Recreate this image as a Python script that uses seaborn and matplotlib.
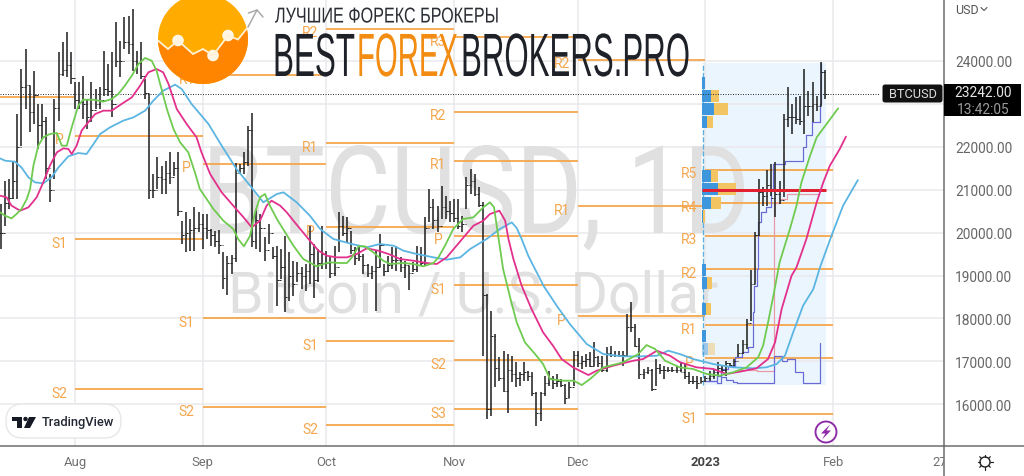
import numpy as np
import matplotlib
matplotlib.use("Agg")
import matplotlib.pyplot as plt
import seaborn as sns
from matplotlib.patches import Circle, FancyBboxPatch, Polygon, Rectangle
from matplotlib.patheffects import AbstractPathEffect
from matplotlib.transforms import Affine2D, Bbox

# ---------- data (days counted from 1 Aug 2022, prices in USD) ----------
first_day = -18
highs = [20666,21210,21250,21677,22764,23813,24280,23425,23775,23000,23000,22690,21366,23114,24200,24450,24684,24200,
 23500,23500,23640,23114,23500,23347,23386,24240,23930,24200,
 24917,24474,25018,25057,25212,24240,24450,23580,23230,21366,
 21754,21560,21677,21870,21638,21870,20278,20472,20317,20589,
 20472,20433,20433,20084,20045,20068,19540,19462,19477,21630,
 21600,21870,22492,22788,20550,20433,19890,20200,19656,19695,
 19617,19928,19540,19345,19307,19190,19268,20161,19734,19617,
 20161,19579,19423,19695,20472,20394,20355,20045,19657,19695,
 19500,19268,19229,19579,19967,19268,19462,19657,19695,19423,
 19345,19229,19307,19695,19657,20355,21016,20783,20627,21078,
 20861,20744,20783,20783,20395,21288,21482,21366,21055,20705,
 18568,18180,17636,17090,17247,17170,17130,16975,16742,16975,
 16781,16742,16276,16291,16664,16781,16664,16703,16586,16470,
 16509,17247,17247,17130,17170,17208,17441,17130,17130,17325,
 17364,17247,17247,17247,18102,18389,17869,17542,16820,16858,
 16820,17053,16936,16897,16858,16877,16897,16976,16937,16743,
 16666,16666,16627,16666,16782,16821,16992,16899,17015,16961,
 17054,17404,17497,17986,19129,20005,21249,21054,21466,21598,
 21637,21210,22764,23385,22997,23152,23191,23813,23308,23502,
 23191,23968,23797]
lows = [19617,20160,20550,20783,20783,22026,22880,22337,22531,21950,22180,21250,20705,21250,22610,23660,23619,23464,
 22880,22880,22650,22415,22570,22880,22880,23192,23192,22690,
 23852,23619,24280,24163,23775,23697,23580,23114,20783,20800,
 21016,20900,20900,21133,21327,20395,19734,19540,19579,19579,
 20006,19617,19850,19695,19656,19500,18685,18545,19035,19307,
 21360,21360,21560,19656,19617,19540,19345,19734,19384,18296,
 18918,18141,18413,18530,18840,18685,18646,18800,18468,18840,
 19151,19151,18934,18980,19540,19928,19773,19500,19245,19345,
 19035,18957,18918,18180,19190,19000,19073,19151,19112,19090,
 18934,18670,19090,19090,19229,19229,20240,20084,20006,20316,
 20316,20239,20239,20084,20006,20550,20900,20861,20590,17130,
 15654,15730,16392,16548,16276,15794,16509,16392,16431,16548,
 16548,16198,15499,15615,16198,16431,16353,16392,16392,16004,
 16136,16431,16858,16820,16858,16858,16897,16858,16742,16742,
 17092,17092,17092,16897,17130,17674,17325,16587,16587,16703,
 16315,16431,16703,16587,16742,16757,16727,16743,16588,16471,
 16471,16355,16495,16510,16549,16588,16666,16743,16666,16899,
 16899,17093,17171,17287,17948,18802,19928,20627,20627,20860,
 20355,20666,20821,22453,22298,22531,22507,22298,22725,22570,
 22841,22958,23113]
closes = [20000,20700,20800,21200,22000,23400,23450,22800,23200,22500,22600,21500,21000,22900,23700,23800,23900,23600,
 23100,23050,23000,22700,22850,23000,23100,23350,23300,23000,
 24000,24000,24450,24400,24000,23950,23650,23250,21000,21000,
 21300,21250,21400,21300,21500,20500,19950,20000,20050,20100,
 20200,20100,20050,19950,19800,19700,18950,19280,19400,21400,
 21500,21650,22400,19800,20300,20100,19600,20000,19450,18900,
 19200,18500,19000,18800,19050,19000,19100,19500,18900,19300,
 19500,19300,19050,19200,20150,20000,20100,19600,19400,19450,
 19250,19050,19100,19200,19700,19100,19250,19350,19350,19200,
 19250,19050,19150,19500,19300,20100,20600,20300,20150,20600,
 20500,20450,20350,20150,20200,21100,21200,20900,20650,18550,
 15900,17600,16850,16600,16300,16800,16700,16600,16700,16750,
 16650,16250,15800,16250,16500,16600,16500,16550,16450,16150,
 16400,17150,16950,17000,17050,16900,17100,16950,16800,17200,
 17150,17150,17150,17150,17800,17800,17350,16700,16750,16800,
 16350,16850,16800,16800,16800,16800,16800,16750,16650,16550,
 16550,16500,16550,16620,16650,16750,16850,16800,16950,16920,
 17000,17200,17400,17900,18800,19950,20950,20850,21100,20800,
 20900,20750,22650,22700,22700,22650,22600,22950,22950,23000,
 22950,23750,23242]

green_d = [-18.2,-17,-15.4,-14.2,-13,-11.7,-10.9,-10.1,-8.9,-7.7,-6.1,-4.4,-3.2,-2,-0.8,0.8,2,4.5,6.9,8.9,10.5,12.1,13.8,15.4,17,18.6,19.8,21,22.3,23.9,25.5,27.5,29.1,
 30.3,33.6,36,38.4,39.6,41,42.5,43.7,44.9,46.1,47.3,49,51,53,55.4,58.7,60.3,61.9,64.3,66,67.2,68.8,70.4,72.4,74.8,76.5,79.7,82.1,84.5,87,88.2,89.8,
 91.8,94.2,96.7,99.1,100.7,101.7,102.7,103.9,105.6,107.2,109.2,112,113.6,115.3,118.5,121,123,125,128.2,133,136.7,138.7,140.8,143.2,146.8,
 150,153.3,156.5,159.7,163,165.8,167,168.2,169.5,171,173.5,175.1,176.3,178.4,180,182.4,185.2]
green_v = [20472,20395,20332,20433,20550,20783,21016,21560,22026,22220,22298,22321,22026,22026,22453,22959,23098,23098,23052,23114,23230,23425,23658,23930,24070,24008,23774,23347,22881,22415,22104,21871,21405,
 21016,20550,20278,20084,19850,19680,19928,20472,20822,20899,20627,20317,20006,19695,19384,19213,19268,19307,19291,19291,19423,19680,19680,19540,19345,19268,19291,19268,19213,19291,19423,19695,
 20084,20317,20356,20589,20705,20589,19928,19151,18490,17907,17441,17130,16936,16587,16548,16548,16447,16587,16858,16975,17169,17379,17286,17014,16858,
 16821,16704,16665,16743,16860,17093,17365,17909,18530,19306,20083,20627,21171,21793,22220,22531,22896]

pink_d = [-18.2,-16.6,-15.4,-13.3,-11.3,-9.3,-7.7,-6.1,-4.4,-2.8,-1.6,-0.8,0.4,1.6,3.2,4.9,6.9,8.9,11.3,13.8,15.8,17.8,19.8,21.4,22.7,24.7,27.1,29.5,30.7,32.8,35.6,38.4,40.9,42.9,44.9,46.5,47.7,
 49.8,51.4,53,55,57,59.1,61.1,63.5,66,68.4,70.8,73.6,76.1,78.9,82.1,85.4,87.8,90.2,92.6,94.3,96.7,99.1,100.7,103,104.4,105.2,
 106.4,108.4,110.8,113.6,116,118.1,120.9,124.6,126.6,130.6,135.5,137.9,141.2,144.4,146.8,
 150.8,154.9,158.1,161.4,165.4,168.2,169.9,171.5,173.9,175.1,177.5,180,181.6,183.2,185.6,187.1]
pink_v = [20861,20822,20628,20511,20589,20822,21171,21560,21871,21964,21948,21832,22026,22376,22570,22764,22842,22842,22998,23153,23425,23736,23813,23736,23464,22881,22531,22220,21871,21366,20938,20628,20356,20122,20278,20628,20744,
 20627,20472,20278,20045,19812,19579,19462,19423,19423,19501,19633,19579,19501,19384,19345,19291,19268,19423,19695,19889,20161,20278,20433,20511,20278,19851,
 19384,18762,18218,17674,17364,17053,16858,16680,16781,16897,17014,17053,17247,17130,16980,
 16860,16821,16704,16759,16837,17054,17443,18220,18996,19190,19850,20705,21171,21560,21948,22236]

blue_d = [-18.2,-17,-14.6,-13,-11.3,-9.7,-7.7,-5.7,-4,-1.6,0.8,2.8,4.5,6.1,8.5,11.7,14.2,17,19,21.4,24.3,25.9,28.3,32.4,35.6,39.2,42.5,45.7,49,50.6,53.8,57,59.5,62.7,
 67.2,70.8,74,77.3,79.7,82.9,87,90.2,93.5,95.9,99.9,103.1,106,107.2,108.4,
 110,113.7,116.9,120.1,124.2,128.2,133,137.1,141.2,144,146.8,
 150,154.9,159.7,164.6,167.8,170.3,172.3,174.3,176.7,179.2,180.8,183.6,186.4,190]
blue_v = [21731,21677,21653,21521,21288,21171,21148,21288,21521,21778,21855,21832,22065,22298,22453,22609,22687,22842,23075,23308,23448,23347,22997,22531,22026,21482,21094,20706,20900,20939,20706,20395,20084,19851,
 19734,19656,19734,19695,19579,19501,19423,19369,19423,19617,19851,20084,20239,20106,19851,
 19461,18762,18296,17869,17402,17169,17115,17115,17130,17247,17169,
 17054,16937,16860,16837,16860,16937,17132,17676,18297,18686,19190,19928,20627,21225]

# monthly pivot levels: (start day, end day, {name: level})
pivot_months = [
    (-31, 0, {"R1": 23168}),
    (0, 31, {"P": 22259, "S1": 19844, "S2": 16354}),
    (31, 61, {"R1": 23673, "P": 21606, "S1": 18009, "S2": 15934}),
    (61, 92, {"R2": 24746, "R1": 22088, "P": 20130, "S1": 17473, "S2": 15515}),
    (92, 122, {"R3": 24559, "R2": 22818, "R1": 21669, "P": 19927, "S1": 18778, "S2": 17030, "S3": 15888}),
    (122, 153, {"R2": 24030, "R1": 20620, "P": 18056}),
    (153, 184, {"R5": 21466, "R4": 20690, "R3": 19927, "R2": 19151, "R1": 17846, "P": 17077, "S1": 15771}),
]

# visible-range volume profile
vp_price = [23486,23191,22880,22570,21326,21008,20697,20378,19136,18826,18220,17598,17287]
vp_up = [0.8,2.3,3.1,1.2,2.2,4.0,2.2,0.3,1.0,1.4,1.05,1.05,1.6]
vp_down = [0,1.9,3.2,1.6,1.7,4.4,2.4,0.6,0,1.1,1.1,0,1.6]
poc_price = 21004
range_high, range_low = 23960, 16450
range_start, range_end = 153, 182.2

upper_d = [153,155.7,156.9,158.5,160.1,161.8,163.4,164.6,164.8,165.6,165.8,166.6,167.7,169,169.5,172.3,176.7,177.5,178.8,180.8,181]
upper_v = [16549,16665,16821,16899,17093,17209,17326,18142,18763,19152,20239,20472,20588,21016,21598,21676,21987,22274,22585,22997,23953]
lower_d = [153,155.7,156.7,158.1,159.7,160.7,169.6,171.5,172.7,174.7,176.7,180.8]
lower_v = [16549,16495,16627,16572,16526,16487,17132,17015,17054,16759,16487,17419]
rose_d = [160.9,165.6,169.6,171.2,172.7,180.4]
rose_v = [16798,16782,20700,20783,20899,20899]

last_price = 23242
price_ticks = [16000,17000,18000,19000,20000,21000,22000,23000,24000]
month_days = [0,31,61,92,122,153,184]
month_labels = ["Aug","Sep","Oct","Nov","Dec","2023","Feb"]
scale_label = "27"

# ---------- figure ----------
W, H = 1024, 477
sns.set_theme(style="white")
plt.rcParams["font.family"] = ["Roboto", "DejaVu Sans"]
fig = plt.figure(figsize=(W/100, H/100), dpi=100)
px = 72/100
ax = fig.add_axes([0, 30/H, 944/W, 447/H])
ov = fig.add_axes([0, 0, 1, 1], zorder=5)
ov.set_xlim(0, W); ov.set_ylim(H, 0); ov.axis("off"); ov.patch.set_alpha(0)
top = fig.add_axes([0, 0, 1, 1], zorder=9)
top.set_xlim(0, W); top.set_ylim(H, 0); top.axis("off"); top.patch.set_alpha(0)
renderer = fig.canvas.get_renderer()


class Squeeze(AbstractPathEffect):
    """Narrows the glyph outlines of a text horizontally about its left edge."""
    def __init__(self, sx):
        super().__init__()
        self.sx = sx
    def draw_path(self, renderer, gc, tpath, affine, rgbFace=None):
        renderer.draw_path(gc, tpath, Affine2D().scale(self.sx, 1) + affine, rgbFace)


def squeeze_to(t, width_px):
    t.set_path_effects([Squeeze(width_px / t.get_window_extent(renderer).width)])
    return t


ax.set_xlim(-18.2, 210.9)
ax.set_ylim(15026, 25445)
ax.yaxis.tick_right()
ax.set_yticks(price_ticks, [f"{v}.00" for v in price_ticks], color="#666666", fontsize=9.9)
ax.set_xticks(month_days, [])
ax.tick_params(length=0, axis="both")
ax.tick_params(axis="y", pad=8)
ax.grid(True, color="#e9e9ec", lw=1.5*px, zorder=0.45)
ax.set_axisbelow(True)
for s in ("top", "left"):
    ax.spines[s].set_visible(False)
for s in ("right", "bottom"):
    ax.spines[s].set_color("#6a6a6a"); ax.spines[s].set_linewidth(1.5*px)

# selected range background
ax.add_patch(Rectangle((range_start, range_low), range_end-range_start, range_high-range_low, color="#eaf5fd", lw=0, zorder=0.3))

# watermark
wm = ax.text(202/W, 1-234/H, "BTCUSD, 1D", transform=fig.transFigure, fontsize=88, color="#e0e0e0", zorder=0.7, family="Roboto")
squeeze_to(wm, 548)
ax.text(228/W, 1-313/H, "Bitcoin / U.S. Dollar", transform=fig.transFigure, fontsize=41, color="#e0e0e0", zorder=0.7, family="Roboto")

# pivots
pc = "#f5a64c"
for start, end, levels in pivot_months:
    for name, v in levels.items():
        ax.hlines(v, start, end, color=pc, lw=1.8*px, zorder=1.5)
        if start >= 0:
            ax.annotate(name, (start, v), xytext=(-16*px, -3.5*px), textcoords="offset points",
                        ha="center", va="center", fontsize=10, color=pc, zorder=1.5)

# volume profile
base = 152.1
for i, (p, u, d) in enumerate(zip(vp_price, vp_up, vp_down)):
    a = 0.45 if i == len(vp_price)-1 else 1
    ax.barh(p, u, left=base, height=285, color="#3e97dc", alpha=a, zorder=1.8, lw=0)
    ax.barh(p, d, left=base+u, height=285, color="#f2c462", alpha=a, zorder=1.8, lw=0)
ax.vlines(base+0.3, range_low, range_high, color="#5aaee0", lw=1.3*px, linestyles=(0, (4, 1.5)), zorder=1.7)
ax.hlines(poc_price, base, range_end, color="#e3202f", lw=3*px, zorder=2.6)

# range steps
ax.plot(upper_d, upper_v, drawstyle="steps-post", color="#6a6ad6", lw=1.2*px, zorder=2.4)
ax.plot(lower_d, lower_v, drawstyle="steps-post", color="#6a6ad6", lw=1.2*px, zorder=2.4)
ax.plot(rose_d, rose_v, drawstyle="steps-post", color="#e89aa5", lw=1.2*px, zorder=2.3)

# OHLC bars
days = np.arange(len(highs)) + first_day
opens = [closes[0]] + closes[:-1]
bar_c = "#262626"
ax.vlines(days, lows, highs, color=bar_c, lw=1.6*px, zorder=2.5)
ax.hlines(opens, days-0.42, days, color=bar_c, lw=1*px, zorder=2.5)
ax.hlines(closes, days, days+0.42, color=bar_c, lw=1*px, zorder=2.5)

# moving averages
for xs, ys, c in ((blue_d, blue_v, "#5bb5e2"), (pink_d, pink_v, "#e2308c"), (green_d, green_v, "#6fcb50")):
    sns.lineplot(x=xs, y=ys, ax=ax, color=c, lw=1.8*px, estimator=None, sort=False, legend=False, zorder=3)
ax.set_xlabel(""); ax.set_ylabel("")
ax.set_ylim(15026, 25445)
ax.axhline(last_price, color="#333333", lw=1*px, ls=(0, (1, 1.5)), zorder=2.2, xmax=880/944)

# axis labels (x)
for d, lab in zip(month_days, month_labels):
    bold = lab == "2023"
    ax.annotate(lab, (d, 0), xycoords=("data", "axes fraction"), xytext=(0, -16*px), textcoords="offset points",
                ha="center", va="center", fontsize=9.4, color="#444444" if bold else "#707070",
                fontweight="bold" if bold else "normal", annotation_clip=False)
t27 = ov.text(940, 463, scale_label, ha="center", va="center", fontsize=9.4, color="#707070")
t27.set_clip_box(Bbox([[0, 0], [944, H]])); t27.set_clip_on(True)

# axis extensions
ov.plot([944, 1024], [447, 447], color="#6a6a6a", lw=1.5*px)
ov.plot([944, 944], [447, 477], color="#6a6a6a", lw=1.5*px)

# USD selector
ov.text(955, 10, "USD", ha="left", va="center", fontsize=9, color="#555555")
ov.plot([981, 984, 987], [8.5, 11.5, 8.5], color="#555555", lw=1.1*px)

# sun / settings icon
ov.add_patch(Circle((985, 463), 5, fc="white", ec="#222222", lw=1.4*px))
for angle in np.deg2rad(np.arange(0, 360, 45)):
    ov.plot([985+5*np.cos(angle), 985+7.5*np.cos(angle)], [463+5*np.sin(angle), 463+7.5*np.sin(angle)], color="#222222", lw=1.2*px)

# lightning badge
ov.add_patch(Circle((826, 433), 10.5, fc="white", ec="#8e2aa8", lw=1.9*px))
ov.add_patch(Polygon([[830, 425.5], [821, 434.5], [825.5, 434.5], [822, 440.5], [831, 431.5], [826.5, 431.5]], fc="#8e2aa8", ec="none"))

# TradingView badge
ov.add_patch(FancyBboxPatch((15, 414), 97, 16, boxstyle="round,pad=9,rounding_size=17", fc="white", ec="#e6e6e6", lw=1.3*px))
ov.add_patch(Polygon([[12, 418], [22, 418], [22, 429], [17, 429], [17, 422], [12, 422]], fc="#161a25", ec="none"))
ov.add_patch(Circle((25.5, 420), 2.2, fc="#161a25", ec="none"))
ov.add_patch(Polygon([[29, 418], [36, 418], [30, 429], [24, 429]], fc="#161a25", ec="none"))
ov.text(42, 423, "TradingView", ha="left", va="center", fontsize=9.3, color="#222733", fontweight="medium")

# BestForexBrokers logo
circ = Circle((203, 40), 45, fc="#ffab00", ec="none")
ov.add_patch(circ)
zig_x = [158, 168, 178, 193, 203, 213, 228, 238, 248]
zig_y = [41.5, 50, 41.5, 55, 50, 56.5, 36.5, 40.5, 28]
low = Polygon(list(zip(zig_x, zig_y)) + [[250, 100], [150, 100]], fc="#ff8500", ec="none")
ov.add_patch(low); low.set_clip_path(circ)
ov.plot(zig_x, zig_y, color="#fff2d8", lw=1.8*px, solid_joinstyle="miter")
ov.plot([248, 257], [28, 11], color="#a8a8a8", lw=1.5*px)
ov.plot([248.5, 257, 263], [14, 11, 18], color="#a8a8a8", lw=1.5*px)
for cx, cy in ((178, 41.5), (213, 56.5), (228, 36.5)):
    ov.add_patch(Circle((cx, cy), 5.8, fc="#fff6e6", ec="none"))

narrow = ["Liberation Sans Narrow", "Liberation Sans", "DejaVu Sans"]
def fitted(x0, x1, y, s, color, size):
    t = ov.text(x0, y, s, ha="left", va="baseline", color=color, fontsize=size, family=narrow)
    return squeeze_to(t, x1-x0)

fitted(275, 498, 23.5, "ЛУЧШИЕ ФОРЕКС БРОКЕРЫ", "#2a2d33", 15.5)
fitted(273, 355, 77, "BEST", "#1e2127", 44)
fitted(357, 458, 77, "FOREX", "#f28c12", 44)
fitted(461, 690, 77, "BROKERS.PRO", "#1e2127", 44)

# last price labels, on the topmost layer
top.add_patch(FancyBboxPatch((884, 87), 57, 15, boxstyle="round,pad=1.5,rounding_size=2.5", fc="#111111", ec="none", zorder=6))
top.text(912.5, 94.5, "BTCUSD", ha="center", va="center", fontsize=9.2, color="#dddddd", zorder=7)
fig.add_artist(Rectangle((944/W, 1-117/H), 77/W, 32/H, transform=fig.transFigure, fc="black", ec="none", zorder=20))
fig.text(983/W, 1-93/H, f"{last_price}.00", ha="center", va="center", fontsize=9.9, color="#e6e6e6", zorder=21)
fig.text(983/W, 1-110/H, "13:42:05", ha="center", va="center", fontsize=9.9, color="#9a9a9a", zorder=21)

fig.savefig("out.png", dpi=100)
